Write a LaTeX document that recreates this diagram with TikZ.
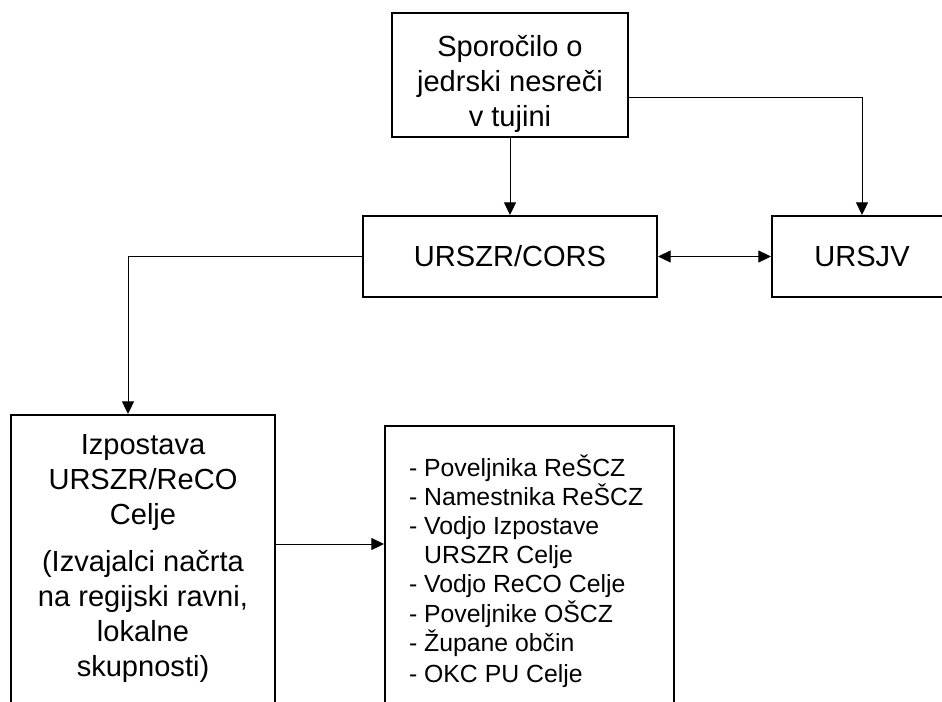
\documentclass[tikz,border=0pt]{standalone}
\usepackage{fontspec}
\setmainfont{Liberation Sans}
\usetikzlibrary{arrows.meta,positioning,calc}

\begin{document}
\begin{tikzpicture}[x=0.75pt,y=-0.75pt,->,>={Triangle[length=9.5pt,width=9pt]},
  line width=0.75pt,
  box/.style={rectangle,draw,line width=1.5pt,align=center,inner sep=0pt,
    font=\fontsize{21.8pt}{26.3pt}\selectfont},
  onebox/.style={box,text height=15.6pt,text depth=0pt},
  boxtext/.style={align=center,inner sep=0pt,outer sep=0pt,
    font=\fontsize{21.8pt}{26.3pt}\selectfont},
  listtext/.style={align=left,inner sep=0pt,outer sep=0pt,
    font=\fontsize{18.6pt}{21.8pt}\selectfont}]

  \useasboundingbox (0,0) rectangle (942,701);
  \clip (0,0) rectangle (942,701);

  \node[box,minimum width=177pt,minimum height=93pt] at (510,75) (spor) {\rule{0pt}{29pt}Sporočilo o\\jedrski nesreči\\v tujini};
  \node[onebox,minimum width=220.5pt,minimum height=60.75pt] at (510,256.5) (cors) {URSZR/CORS};
  \node[onebox,minimum width=135pt,minimum height=60.75pt] at (862,256.5) (ursjv) {URSJV};
  \node[box,minimum width=198pt,minimum height=240pt,anchor=north] at (143,414) (izp) {};
  \node[boxtext,below=15pt of izp.north] (izptext) {Izpostava\\URSZR/ReCO\\Celje\\[9pt](Izvajalci načrta\\na regijski ravni,\\lokalne\\skupnosti)};
  \node[box,minimum width=216.75pt,minimum height=225pt,anchor=north] at (529.5,425) (list) {};
  \node[listtext,below right=22.5pt and 18.75pt of list.north west] (listitems) {- Poveljnika ReŠCZ\\- Namestnika ReŠCZ\\- Vodjo Izpostave\\\hphantom{- }URSZR Celje\\- Vodjo ReCO Celje\\- Poveljnike OŠCZ\\- Župane občin\\[2pt]- OKC PU Celje};
  \coordinate (mid) at (0,544);

  \draw[->] (spor.south) -- (cors.north);
  \draw[->] ([yshift=-16.5pt]spor.east) -| (ursjv.north);
  \draw[<->] (cors.east) -- (ursjv.west);
  \draw[->] (cors.west) -| ([xshift=-11.25pt]izp.north);
  \draw[->] (izp.east |- mid) -- (list.west |- mid);
\end{tikzpicture}
\end{document}
